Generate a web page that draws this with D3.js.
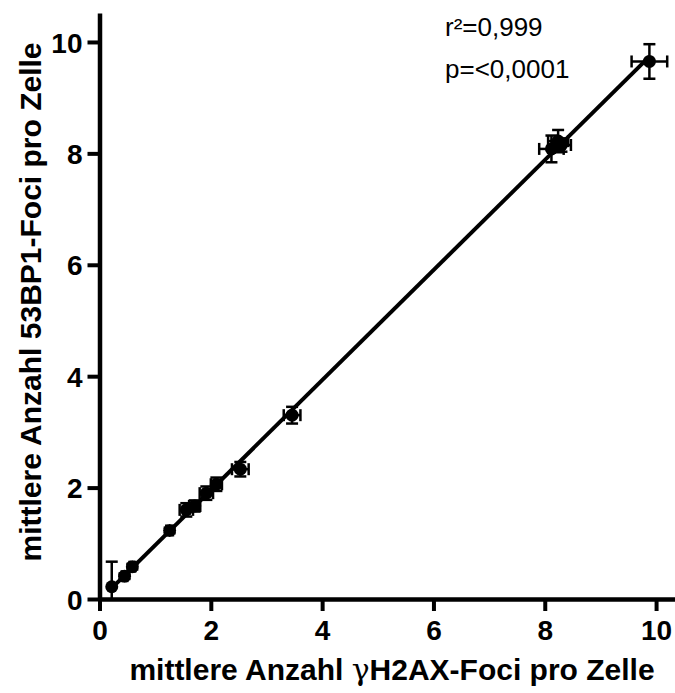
<!DOCTYPE html>
<html>
<head>
<meta charset="utf-8">
<script src="https://cdn.jsdelivr.net/npm/d3@7"></script>
<style>
  html, body { margin: 0; padding: 0; background: #fff; }
  svg { display: block; }
  text { font-family: Arial, "Liberation Sans", Helvetica, sans-serif; }
</style>
</head>
<body>
<svg id="chart" width="675" height="693"></svg>
<script>
// Mean foci per cell: γH2AX (x) vs 53BP1 (y), with SEM in both directions
const gH2AX   = [0.22, 0.45, 0.59, 1.26, 1.56, 1.71, 1.92, 2.10, 2.53, 3.46, 8.12, 8.24, 8.30, 9.88];
const bp53    = [0.22, 0.41, 0.58, 1.23, 1.60, 1.67, 1.90, 2.06, 2.33, 3.30, 8.08, 8.22, 8.15, 9.65];
const gH2AXerr = [0.00, 0.05, 0.05, 0.06, 0.12, 0.10, 0.12, 0.10, 0.15, 0.15, 0.22, 0.18, 0.17, 0.32];
const bp53err  = [0.45, 0.05, 0.05, 0.05, 0.12, 0.10, 0.12, 0.12, 0.13, 0.15, 0.24, 0.20, 0.12, 0.31];

const xTicks = [0, 2, 4, 6, 8, 10];
const yTicks = [0, 2, 4, 6, 8, 10];
const statLines = ["r²=0,999", "p=<0,0001"];

const svg = d3.select("#chart");

const x = d3.scaleLinear().domain([0, 10.34]).range([99.5, 675]);
const y = d3.scaleLinear().domain([0, 10.52]).range([599, 13]);

const points = gH2AX.map((v, i) => ({ x: v, y: bp53[i], ex: gH2AXerr[i], ey: bp53err[i] }));

// least-squares fit through the points
const mx = d3.mean(points, d => d.x), my = d3.mean(points, d => d.y);
const slope = d3.sum(points, d => (d.x - mx) * (d.y - my)) / d3.sum(points, d => (d.x - mx) ** 2);
const intercept = my - slope * mx;
const [xmin, xmax] = d3.extent(points, d => d.x);

// axes
const xAxis = d3.axisBottom(x).tickValues(xTicks).tickSize(12).tickSizeOuter(0).tickPadding(8).tickFormat(d3.format("d"));
const yAxis = d3.axisLeft(y).tickValues(yTicks).tickSize(12).tickSizeOuter(0).tickPadding(5).tickFormat(d3.format("d"));

const gx = svg.append("g").attr("transform", `translate(0,${y(0)})`).call(xAxis);
const gy = svg.append("g").attr("transform", `translate(${x(0)},0)`).call(yAxis);

[gx, gy].forEach(g => {
  g.select(".domain").attr("stroke", "#000").attr("stroke-width", 4.5);
  g.selectAll(".tick line").attr("stroke", "#000").attr("stroke-width", 4);
  g.selectAll(".tick text")
    .attr("fill", "#000")
    .style("font-size", "28px")
    .style("font-weight", "bold");
});
gx.selectAll(".tick text").attr("dy", "0.74em");
gy.selectAll(".tick text").attr("dy", "0.36em");

// axis titles
const xt = svg.append("text")
  .attr("x", 392).attr("y", 680)
  .attr("text-anchor", "middle")
  .style("font-size", "30px").style("font-weight", "bold")
  .attr("fill", "#000");
xt.append("tspan").text("mittlere Anzahl ");
xt.append("tspan").style("font-family", "'DejaVu Serif', serif").style("font-weight", "normal").text("γ");
xt.append("tspan").text("H2AX-Foci pro Zelle");

svg.append("text")
  .attr("transform", `translate(41,302) rotate(-90)`)
  .attr("text-anchor", "middle")
  .style("font-size", "30px").style("font-weight", "bold")
  .attr("fill", "#000")
  .text("mittlere Anzahl 53BP1-Foci pro Zelle");

// regression line
svg.append("line")
  .attr("x1", x(xmin)).attr("y1", y(intercept + slope * xmin))
  .attr("x2", x(xmax)).attr("y2", y(intercept + slope * xmax))
  .attr("stroke", "#000").attr("stroke-width", 4);

// error bars
const cap = 6;
const eb = svg.append("g").attr("stroke", "#000").attr("stroke-width", 2.5).attr("fill", "none");
points.forEach(d => {
  if (d.ey > 0) {
    const y1 = y(Math.max(0, d.y - d.ey)), y2 = y(d.y + d.ey);
    eb.append("line").attr("x1", x(d.x)).attr("x2", x(d.x)).attr("y1", y1).attr("y2", y2);
    eb.append("line").attr("x1", x(d.x) - cap).attr("x2", x(d.x) + cap).attr("y1", y2).attr("y2", y2);
    if (d.y - d.ey > 0)
      eb.append("line").attr("x1", x(d.x) - cap).attr("x2", x(d.x) + cap).attr("y1", y1).attr("y2", y1);
  }
  if (d.ex > 0) {
    const x1 = x(Math.max(0, d.x - d.ex)), x2 = x(d.x + d.ex);
    eb.append("line").attr("x1", x1).attr("x2", x2).attr("y1", y(d.y)).attr("y2", y(d.y));
    eb.append("line").attr("x1", x2).attr("x2", x2).attr("y1", y(d.y) - cap).attr("y2", y(d.y) + cap);
    if (d.x - d.ex > 0)
      eb.append("line").attr("x1", x1).attr("x2", x1).attr("y1", y(d.y) - cap).attr("y2", y(d.y) + cap);
  }
});

// markers
svg.append("g").selectAll("circle").data(points).join("circle")
  .attr("cx", d => x(d.x)).attr("cy", d => y(d.y))
  .attr("r", 6.5).attr("fill", "#000");

// statistics
svg.append("g").selectAll("text").data(statLines).join("text")
  .attr("x", 445).attr("y", (d, i) => 36 + i * 42)
  .style("font-size", "26px")
  .attr("fill", "#000")
  .text(d => d);
</script>
</body>
</html>
